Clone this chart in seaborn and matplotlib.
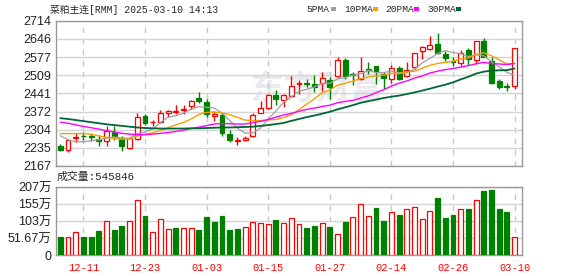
import numpy as np
import pandas as pd
import matplotlib
matplotlib.use("Agg")
import matplotlib.pyplot as plt
from matplotlib.patches import Rectangle
import seaborn as sns

# ---------------- data ----------------
opens = [2243, 2229, 2273, 2281, 2279, 2270, 2261, 2295, 2273, 2234,
         2268, 2355, 2331, 2333, 2366, 2371, 2376, 2391, 2423, 2408,
         2354, 2358, 2286, 2261, 2266, 2280, 2368, 2384, 2435, 2414,
         2430, 2476, 2481, 2476, 2479, 2491, 2505, 2567, 2514, 2495,
         2533, 2542, 2514, 2493, 2537, 2505, 2539, 2599, 2607, 2627,
         2589, 2564, 2554, 2604, 2567, 2637, 2564, 2486, 2468, 2468]
highs = [2248, 2266, 2291, 2295, 2289, 2283, 2318, 2318, 2281, 2276,
         2368, 2364, 2339, 2376, 2379, 2395, 2395, 2414, 2444, 2419,
         2374, 2368, 2304, 2276, 2281, 2368, 2411, 2439, 2454, 2439,
         2505, 2489, 2494, 2510, 2520, 2501, 2577, 2573, 2520, 2577,
         2558, 2543, 2520, 2548, 2545, 2558, 2593, 2620, 2657, 2668,
         2599, 2577, 2605, 2612, 2639, 2649, 2579, 2495, 2480, 2612]
lows = [2224, 2219, 2258, 2264, 2261, 2243, 2243, 2264, 2224, 2230,
        2264, 2321, 2318, 2330, 2351, 2361, 2364, 2383, 2404, 2351,
        2336, 2279, 2258, 2245, 2260, 2278, 2366, 2380, 2395, 2389,
        2426, 2439, 2464, 2445, 2449, 2420, 2501, 2493, 2473, 2489,
        2514, 2476, 2458, 2480, 2489, 2501, 2533, 2568, 2605, 2587,
        2564, 2542, 2543, 2548, 2552, 2577, 2474, 2455, 2448, 2455]
closes = [2229, 2264, 2278, 2279, 2276, 2261, 2299, 2281, 2241, 2273,
          2350, 2330, 2334, 2366, 2374, 2374, 2383, 2410, 2411, 2361,
          2361, 2291, 2266, 2266, 2273, 2360, 2385, 2435, 2419, 2435,
          2468, 2481, 2476, 2466, 2499, 2466, 2567, 2504, 2510, 2524,
          2529, 2523, 2499, 2535, 2495, 2527, 2592, 2614, 2622, 2592,
          2575, 2557, 2593, 2569, 2637, 2579, 2480, 2466, 2463, 2612]

ma5 = [2281, 2266, 2258, 2258, 2262, 2266, 2272, 2276, 2272, 2271,
       2289, 2295, 2306, 2331, 2351, 2356, 2366, 2381, 2390, 2388,
       2385, 2367, 2338, 2309, 2291, 2291, 2310, 2344, 2374, 2407,
       2428, 2448, 2456, 2465, 2478, 2478, 2495, 2500, 2509, 2514,
       2527, 2518, 2519, 2524, 2518, 2518, 2532, 2555, 2572, 2591,
       2601, 2594, 2590, 2579, 2585, 2582, 2560, 2540, 2520, 2508]
ma10 = [2289, 2289, 2289, 2289, 2287, 2280, 2275, 2271, 2268, 2268,
        2280, 2287, 2292, 2301, 2311, 2322, 2331, 2344, 2361, 2369,
        2370, 2367, 2360, 2350, 2340, 2338, 2338, 2341, 2342, 2349,
        2360, 2379, 2400, 2420, 2442, 2453, 2471, 2478, 2487, 2496,
        2502, 2506, 2509, 2516, 2515, 2521, 2524, 2535, 2546, 2553,
        2557, 2561, 2570, 2574, 2588, 2593, 2582, 2567, 2551, 2553]
ma20 = [2332, 2328, 2322, 2316, 2311, 2306, 2300, 2295, 2290, 2287,
        2285, 2285, 2287, 2290, 2293, 2297, 2302, 2308, 2313, 2319,
        2325, 2327, 2326, 2325, 2325, 2330, 2335, 2342, 2351, 2359,
        2365, 2373, 2380, 2385, 2391, 2396, 2405, 2410, 2414, 2423,
        2431, 2443, 2454, 2468, 2479, 2487, 2498, 2506, 2517, 2524,
        2530, 2534, 2539, 2545, 2552, 2557, 2553, 2551, 2549, 2553]
ma30 = [2347, 2344, 2340, 2336, 2332, 2328, 2324, 2321, 2318, 2315,
        2312, 2310, 2309, 2308, 2308, 2308, 2308, 2309, 2309, 2310,
        2311, 2312, 2312, 2313, 2314, 2315, 2318, 2321, 2325, 2329,
        2337, 2344, 2351, 2357, 2364, 2371, 2380, 2388, 2396, 2405,
        2411, 2417, 2423, 2428, 2432, 2438, 2444, 2451, 2458, 2466,
        2473, 2482, 2493, 2503, 2515, 2522, 2526, 2527, 2528, 2534]

volume_wan = [54, 56, 69, 56, 54, 72, 102, 75, 87, 102,
              167, 119, 69, 109, 78, 82, 81, 81, 76, 116,
              100, 119, 76, 79, 84, 99, 96, 93, 107, 97,
              113, 93, 81, 89, 98, 84, 64, 101, 117, 154,
              120, 142, 104, 131, 123, 141, 146, 110, 134, 173,
              111, 123, 141, 139, 166, 195, 198, 139, 132, 54.58]
volume_up = [0, 1, 1, 0, 0, 0, 1, 0, 0, 1,
             1, 0, 1, 1, 1, 0, 1, 1, 0, 0,
             0, 0, 0, 0, 1, 1, 1, 1, 0, 1,
             1, 1, 0, 0, 1, 0, 1, 0, 1, 1,
             1, 0, 0, 1, 0, 1, 1, 1, 1, 0,
             0, 0, 1, 0, 1, 0, 0, 0, 0, 1]

date_tick_index = [3, 11, 19, 27, 35, 43, 51, 59]
date_tick_labels = ["12-11", "12-23", "01-03", "01-15", "01-27", "02-14", "02-26", "03-10"]
price_tick_labels = ["2167", "2235", "2304", "2372", "2441", "2509", "2577", "2646", "2714"]
volume_tick_labels = ["0", "51.67万", "103万", "155万", "207万"]
ma_names = ["5PMA", "10PMA", "20PMA", "30PMA"]
title_text = "菜粕主连[RMM] 2025-03-10 14:13"
volume_title = "成交量:545846"

# ---------------- styling ----------------
RED = "#ff0000"
GREEN = "#008000"
MA_COLORS = ["#a0a0a0", "#f5a000", "#ff00ff", "#006633"]
GRID = "#d4d4d4"
SPINE = "#999999"

sns.set_style("white")
plt.rcParams["font.family"] = ["Liberation Sans", "Noto Sans CJK SC"]

W, H = 578, 276
fig = plt.figure(figsize=(W / 100, H / 100), dpi=100)


def fx(px):
    return px / W


def fy(py):
    return 1 - py / H


ax1 = fig.add_axes([fx(55.7), fy(166), (522.3 - 55.7) / W, (166 - 20.7) / H])
ax2 = fig.add_axes([fx(55.7), fy(255), (522.3 - 55.7) / W, (255 - 187) / H])

n = len(closes)
x = np.arange(n)
df = pd.DataFrame({"x": x, "open": opens, "high": highs, "low": lows, "close": closes,
                   "ma5": ma5, "ma10": ma10, "ma20": ma20, "ma30": ma30,
                   "vol": volume_wan, "vup": volume_up})
up = df["close"] >= df["open"]

# watermark
ax1.text(0.56, 0.52, "东方财富", transform=ax1.transAxes, ha="center", va="center",
         fontsize=24, fontweight="bold", color="#e9e9ee", family=["Noto Sans CJK SC"], zorder=0.5)

# candlesticks
cols = np.where(up, RED, GREEN)
ax1.vlines(df["x"], df["low"], df["high"], colors=cols, linewidth=1.0, zorder=2)
body_bottom = np.minimum(df["open"], df["close"])
body_h = np.maximum(np.abs(df["close"] - df["open"]), 0.3)
ax1.bar(df["x"], body_h, bottom=body_bottom, width=0.64,
        color=np.where(up, "white", GREEN), edgecolor=cols, linewidth=0.9, zorder=3)

# moving averages
for name, c, lw in zip(["ma5", "ma10", "ma20", "ma30"], MA_COLORS, [0.9, 1.0, 1.0, 1.3]):
    sns.lineplot(data=df, x="x", y=name, ax=ax1, color=c, linewidth=lw, zorder=4, legend=False)

ax1.set_xlim(-0.6, 60.0)
ax1.set_ylim(2167, 2714)
ax1.set_yticks(np.linspace(2167, 2714, 9))
ax1.set_yticklabels(price_tick_labels)
ax1.set_xticks(date_tick_index)
ax1.set_xticklabels([])
ax1.set_xlabel("")
ax1.set_ylabel("")
ax1.grid(axis="y", color=GRID, linewidth=1.0, linestyle="-")
ax1.grid(axis="x", color="#c8c8c8", linewidth=1.0, linestyle=(0, (4, 4)))
ax1.set_axisbelow(True)
ax1.tick_params(axis="both", length=0, pad=3)
ax1.tick_params(axis="y", labelsize=9, labelcolor="#222222")
for s in ax1.spines.values():
    s.set_color(SPINE)
    s.set_linewidth(1.0)
    s.set_visible(True)

# volume
vcols = np.where(df["vup"] == 1, RED, GREEN)
ax2.bar(df["x"], df["vol"], width=0.64, color=np.where(df["vup"] == 1, "white", GREEN),
        edgecolor=vcols, linewidth=0.9, zorder=3)
ax2.set_xlim(-0.6, 60.0)
ax2.set_ylim(0, 206.67)
ax2.set_yticks(np.linspace(0, 206.67, 5))
ax2.set_yticklabels(volume_tick_labels)
ax2.set_xticks(date_tick_index)
ax2.set_xticklabels(date_tick_labels)
ax2.set_xlabel("")
ax2.set_ylabel("")
ax2.grid(axis="y", color=GRID, linewidth=1.0, linestyle="-")
ax2.grid(axis="x", color="#c8c8c8", linewidth=1.0, linestyle=(0, (4, 4)))
ax2.set_axisbelow(True)
ax2.tick_params(axis="both", length=0)
ax2.tick_params(axis="y", labelsize=9, pad=3, labelcolor="#222222")
ax2.tick_params(axis="x", labelsize=7.5, pad=6, labelcolor=RED)
for lab in ax2.get_xticklabels():
    lab.set_family(["Liberation Mono"])
for s in ax2.spines.values():
    s.set_color(SPINE)
    s.set_linewidth(1.0)
    s.set_visible(True)

# header texts
mixed = ["Liberation Mono", "Noto Sans CJK SC"]
fig.text(fx(50), fy(9.5), title_text, family=mixed, fontsize=7.0, va="center", ha="left")
fig.text(fx(57), fy(177), volume_title, family=mixed, fontsize=7.8, va="center", ha="left")

legend_text_x = [306, 344, 385, 427]
legend_box_x = [331, 373, 414, 456]
for name, c, tx, bx in zip(ma_names, MA_COLORS, legend_text_x, legend_box_x):
    fig.text(fx(tx), fy(9.5), name, family=["Liberation Mono"], fontsize=6.8, va="center", ha="left")
    fig.add_artist(Rectangle((fx(bx), fy(11)), 5 / W, 4 / H, transform=fig.transFigure,
                             facecolor=c, edgecolor="none"))

fig.savefig("out.png", dpi=100)
